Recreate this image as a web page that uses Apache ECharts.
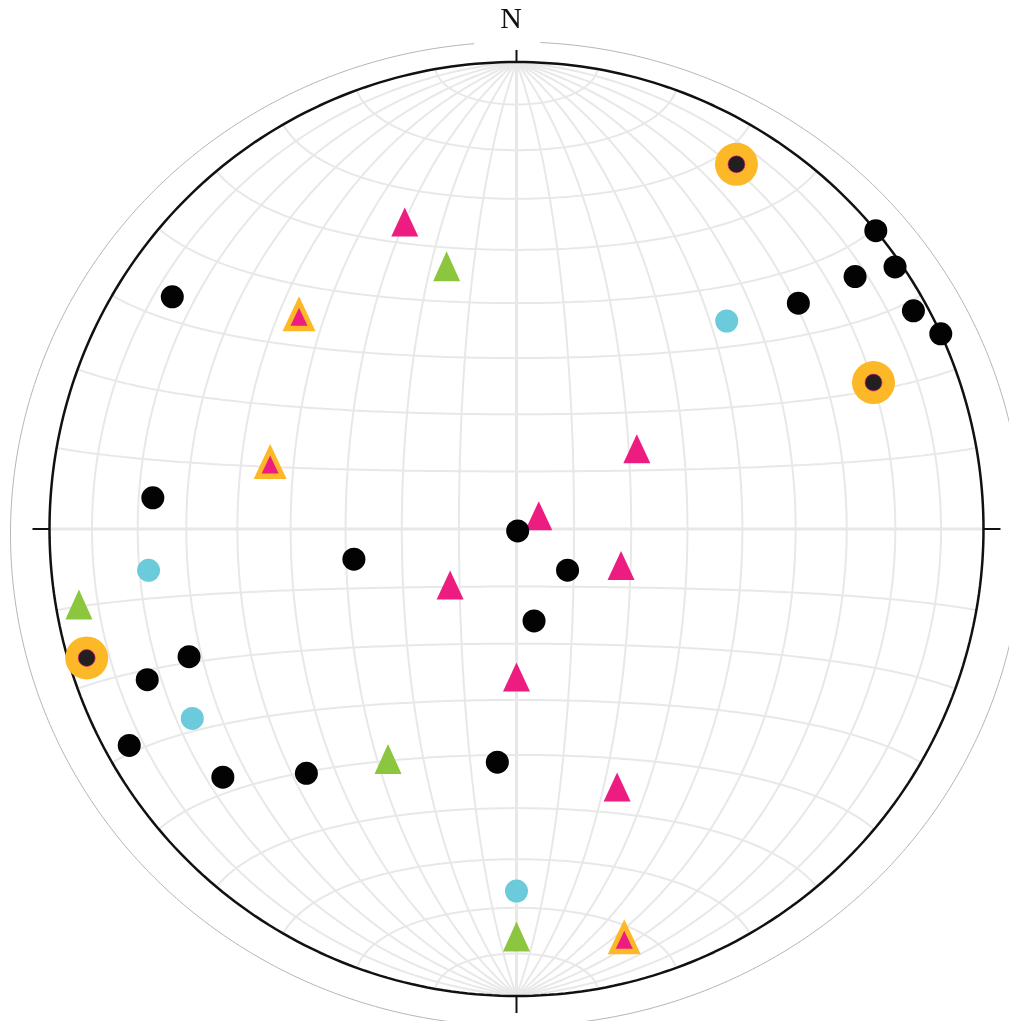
<!DOCTYPE html>
<html>
<head>
<meta charset="utf-8">
<title>Stereonet</title>
<script src="https://cdn.jsdelivr.net/npm/echarts@6/dist/echarts.min.js"></script>
<style>
    html, body {margin: 0; padding: 0; background: #fff;}
    #chart {width: 1009px; height: 1021px;}
</style>
</head>
<body>
<div id="chart"></div>
<script>
var blackPoles = [
    [50.3, 0], [55.3, 1.6], [53.3, 10.5], [51.3, 23.7], [61.2, 3.4], [65.3, 0],
    [304.0, 12.1], [274.9, 22.9], [149, 89.6], [259.5, 61.0], [128.9, 78.6], [169.2, 73.7],
    [248.7, 25.7], [247.8, 15.7], [240.8, 5.6], [229.8, 18.8], [220.7, 31.6], [184.7, 48.5]
];
var cyanPoles = [[45.3, 36.8], [263.6, 21.8], [239.7, 20.7], [180, 23.5]];
var ringPoles = [[31.1, 9.7], [67.7, 18.5], [253.3, 4.4]];
var magentaLineations = [
    [340.0, 30.7], [56.3, 64.7], [59.2, 85.5], [109.2, 70.7],
    [229.9, 74.9], [180, 64.1], [158.7, 40.4]
];
var greenLineations = [[345.1, 41.4], [260.2, 5.5], [209.2, 43.0], [180, 13.8]];
var ringLineations = [[314.7, 34.8], [285.3, 44.5], [165.2, 10.6]];
var northLabel = 'N';

var D = Math.PI / 180;
var R = 467;          // primitive radius in px
var EXT = 1.2;        // axis extent in net units

/**
 * 等面积投影 (Schmidt) : trend/plunge -> x,y
 */
function project(tp) {
    var t = tp[0] * D, p = tp[1] * D;
    var r = Math.SQRT2 * Math.sin((Math.PI / 2 - p) / 2);
    return [r * Math.sin(t), r * Math.cos(t)];
}

function netPoint(lon, lat) {
    var l = lon * D, f = lat * D;
    var k = Math.sqrt(2 / (1 + Math.cos(f) * Math.cos(l)));
    return [k * Math.cos(f) * Math.sin(l) / Math.SQRT2, k * Math.sin(f) / Math.SQRT2];
}

function lineSeries(data, color, width, z) {
    return {
        type: 'line',
        data: data,
        showSymbol: false,
        symbol: 'none',
        clip: false,
        silent: true,
        z: z,
        lineStyle: {color: color, width: width}
    };
}

var series = [];

// net: great circles and small circles every 10 degrees
for (var a = -80; a <= 80; a += 10) {
    var mer = [], lat = [];
    for (var s = -90; s <= 90; s += 1) {
        mer.push(netPoint(a, s));
        lat.push(netPoint(s, a));
    }
    series.push(lineSeries(mer, '#e8e8e8', a === 0 ? 3 : 2, 1));
    series.push(lineSeries(lat, '#e8e8e8', a === 0 ? 3 : 2, 1));
}

// primitive circle
var prim = [];
for (var i = 0; i <= 360; i++) {
    prim.push([Math.sin(i * D), Math.cos(i * D)]);
}
series.push(lineSeries(prim, '#111', 2.5, 3));

// faint outer ring with a gap for the label
var outer = [];
for (var j = 2.7; j <= 355.6; j += 0.5) {
    outer.push([506 / R * Math.sin(j * D), -5 / R + 492 / R * Math.cos(j * D)]);
}
series.push(lineSeries(outer, '#b5b5b5', 1, 2));

// cardinal ticks
var tk = 17 / R;
series.push(lineSeries([[0, 1], [0, 1 + 12 / R]], '#111', 2, 3));
series.push(lineSeries([[1, 0], [1 + tk, 0]], '#111', 2, 3));
series.push(lineSeries([[0, -1], [0, -1 - tk]], '#111', 2, 3));
series.push(lineSeries([[-1, 0], [-1 - tk, 0]], '#111', 2, 3));

function scatter(list, symbol, size, color, z, extra) {
    var obj = {
        type: 'scatter',
        data: list.map(project),
        symbol: symbol,
        symbolSize: size,
        clip: false,
        silent: true,
        z: z,
        itemStyle: {color: color, opacity: 1}
    };
    if (extra) {
        for (var key in extra) {
            obj[key] = extra[key];
        }
    }
    return obj;
}

series.push(scatter(magentaLineations, 'triangle', [27, 29], '#ec1c80', 5));
series.push(scatter(greenLineations, 'triangle', [27, 30], '#8cc63f', 5));
series.push(scatter(ringLineations, 'triangle', [33, 35], '#fdb827', 5));
series.push(scatter(ringLineations, 'triangle', [17, 18], '#ec1c80', 6, {symbolOffset: [0, 3]}));
series.push(scatter(cyanPoles, 'circle', 23, '#6ccbdb', 7));
series.push(scatter(blackPoles, 'circle', 23, '#030303', 7));
series.push(scatter(ringPoles, 'circle', 43, '#fdb827', 7));
series.push(scatter(ringPoles, 'circle', 17, '#231f20', 8, {
    itemStyle: {color: '#231f20', borderColor: 'rgba(236,28,128,0.6)', borderWidth: 1, opacity: 1}
}));

var half = EXT * R;
var myChart = echarts.init(document.getElementById('chart'));
var option = {
    animation: false,
    backgroundColor: '#fff',
    grid: {
        left: 516.5 - half,
        top: 529 - half,
        width: 2 * half,
        height: 2 * half,
        outerBoundsMode: 'none',
        containLabel: false
    },
    xAxis: {type: 'value', min: -EXT, max: EXT, show: false},
    yAxis: {type: 'value', min: -EXT, max: EXT, show: false},
    graphic: [{
        type: 'text',
        x: 511,
        y: 20,
        style: {
            text: northLabel,
            font: '30px "Liberation Serif", serif',
            fill: '#111',
            textAlign: 'center',
            textVerticalAlign: 'middle'
        }
    }],
    series: series
};
myChart.setOption(option, true);
</script>
</body>
</html>
